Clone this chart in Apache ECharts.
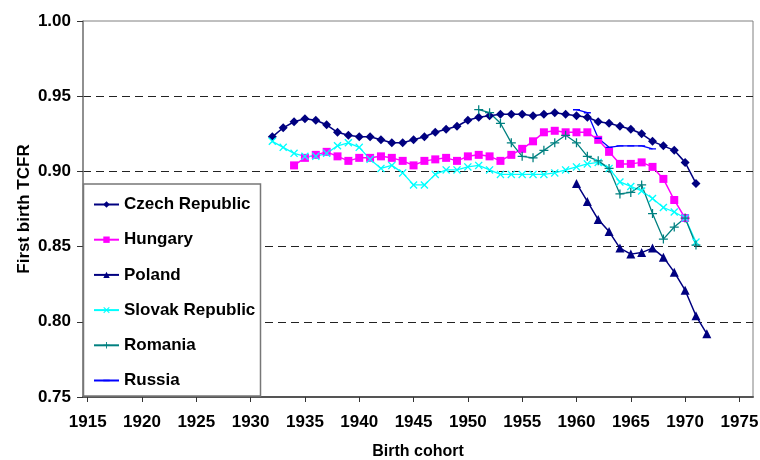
<!DOCTYPE html>
<html>
<head>
<meta charset="utf-8">
<script src="https://cdn.jsdelivr.net/npm/echarts@6/dist/echarts.min.js"></script>
<style>
html,body{margin:0;padding:0;background:#fff;}
#chart{width:760px;height:460px;}
</style>
</head>
<body>
<div id="chart"></div>
<script>
// Birth cohorts (x values)
const cohorts = [1932,1933,1934,1935,1936,1937,1938,1939,1940,1941,1942,1943,1944,1945,1946,1947,1948,1949,1950,1951,1952,1953,1954,1955,1956,1957,1958,1959,1960,1961,1962,1963,1964,1965,1966,1967,1968,1969,1970,1971,1972];
const xTicks = [1915,1920,1925,1930,1935,1940,1945,1950,1955,1960,1965,1970,1975];
const seriesNames = ['Czech Republic','Hungary','Poland','Slovak Republic','Romania','Russia'];

// First birth TCFR by cohort (null = no data)
const czech = [0.923,0.929,0.933,0.935,0.934,0.931,0.926,0.924,0.923,0.923,0.921,0.919,0.919,0.921,0.923,0.926,0.928,0.930,0.934,0.936,0.937,0.938,0.938,0.938,0.937,0.938,0.939,0.938,0.937,0.936,0.933,0.932,0.930,0.928,0.925,0.920,0.917,0.914,0.906,0.892,null];
const hungary = [null,null,0.904,0.909,0.911,0.913,0.910,0.907,0.909,0.909,0.910,0.909,0.907,0.904,0.907,0.908,0.909,0.907,0.910,0.911,0.910,0.907,0.911,0.915,0.920,0.926,0.927,0.926,0.926,0.926,0.921,0.913,0.905,0.905,0.906,0.903,0.895,0.881,0.869,null,null];
const poland = [null,null,null,null,null,null,null,null,null,null,null,null,null,null,null,null,null,null,null,null,null,null,null,null,null,null,null,null,0.892,0.880,0.868,0.860,0.849,0.845,0.846,0.849,0.843,0.833,0.821,0.804,0.792];
const slovak = [0.920,0.916,0.912,0.910,0.910,0.912,0.917,0.919,0.916,0.908,0.902,0.904,0.899,0.891,0.891,0.898,0.901,0.901,0.903,0.904,0.901,0.898,0.898,0.898,0.898,0.898,0.899,0.901,0.903,0.905,0.906,0.902,0.893,0.890,0.887,0.882,0.876,0.873,0.869,0.853,null];
const romania = [null,null,null,null,null,null,null,null,null,null,null,null,null,null,null,null,null,null,null,0.941,0.939,0.932,0.919,0.910,0.909,0.914,0.919,0.924,0.919,0.910,0.907,0.902,0.885,0.886,0.891,0.872,0.855,0.863,0.869,0.851,null];
const russia = [null,null,null,null,null,null,null,null,null,null,null,null,null,null,null,null,null,null,null,null,null,null,null,null,null,null,null,null,0.941,0.939,0.922,0.916,0.917,0.917,0.917,0.915,null,null,null,null,null];

function pairs(vals){
  return cohorts.map((c,i)=> vals[i]==null ? null : [c, vals[i]]).filter(Boolean);
}

const FONT = "'Liberation Sans', Arial, sans-serif";
const X_PATH = 'path://M0,1.2L1.2,0L5,3.8L8.8,0L10,1.2L6.2,5L10,8.8L8.8,10L5,6.2L1.2,10L0,8.8L3.8,5Z';
const PLUS_PATH = 'path://M4.3,0H5.7V4.3H10V5.7H5.7V10H4.3V5.7H0V4.3H4.3Z';
const DASH_PATH = 'path://M0,0L0.01,0L0,0.01ZM0,4H10V6H0ZM10,10L9.99,10L10,9.99Z';

function mk(name, vals, color, symbol, size, width){
  return {
    name: name,
    type: 'line',
    data: pairs(vals),
    symbol: symbol,
    symbolSize: size,
    showAllSymbol: true,
    color: color,
    lineStyle: {color: color, width: width},
    itemStyle: {color: color},
    emphasis: {disabled: true},
    animation: false,
    z: 3
  };
}

const chart = echarts.init(document.getElementById('chart'), null, {renderer: 'canvas'});
chart.setOption({
  backgroundColor: '#ffffff',
  animation: false,
  textStyle: {fontFamily: FONT},
  grid: {left: 83, right: 7, top: 21, bottom: 63, show: true, borderColor: '#808080', borderWidth: 1, backgroundColor: 'transparent', outerBoundsMode: 'none', containLabel: false},
  xAxis: {
    type: 'value',
    min: 1914.57,
    max: 1976.25,
    name: 'Birth cohort',
    nameLocation: 'middle',
    nameGap: 47,
    nameMoveOverlap: false,
    nameTextStyle: {fontFamily: FONT, fontWeight: 'bold', fontSize: 16, color: '#000'},
    axisLine: {show: true, onZero: false, lineStyle: {color: '#555', width: 2}},
    axisTick: {show: true, length: 5, customValues: xTicks, lineStyle: {color: '#333', width: 1}},
    axisLabel: {customValues: xTicks, margin: 17, fontFamily: FONT, fontWeight: 'bold', fontSize: 17, color: '#000', formatter: v => String(Math.round(v))},
    splitLine: {show: false}
  },
  yAxis: {
    type: 'value',
    min: 0.75,
    max: 1.0,
    interval: 0.05,
    name: 'First birth TCFR',
    nameLocation: 'middle',
    nameRotate: 90,
    nameGap: 50,
    nameMoveOverlap: false,
    nameTextStyle: {fontFamily: FONT, fontWeight: 'bold', fontSize: 17, color: '#000'},
    axisLine: {show: true, onZero: false, lineStyle: {color: '#808080', width: 1.5}},
    axisTick: {show: true, length: 6, lineStyle: {color: '#333', width: 1}},
    axisLabel: {margin: 12, fontFamily: FONT, fontWeight: 'bold', fontSize: 17, color: '#000', formatter: v => v.toFixed(2)},
    splitLine: {show: true, showMinLine: false, showMaxLine: false, lineStyle: {color: '#222', width: 1, type: [8,5]}}
  },
  graphic: [{
    type: 'rect',
    z: 1,
    shape: {x: 83.5, y: 184, width: 177, height: 212},
    style: {fill: '#ffffff', stroke: '#777', lineWidth: 1.5}
  }],
  legend: {
    data: seriesNames,
    orient: 'vertical',
    left: 93,
    top: 196,
    padding: 0,
    itemWidth: 25,
    itemHeight: 8,
    itemGap: 18.2,
    textStyle: {fontFamily: FONT, fontWeight: 'bold', fontSize: 17, color: '#000', lineHeight: 16},
    selectedMode: false
  },
  series: [
    mk(seriesNames[0], czech, '#000080', 'diamond', 9, 1.5),
    mk(seriesNames[1], hungary, '#FF00FF', 'rect', 8, 1.5),
    mk(seriesNames[2], poland, '#000080', 'triangle', 9, 1.5),
    mk(seriesNames[3], slovak, '#00FFFF', X_PATH, 8, 1.3),
    mk(seriesNames[4], romania, '#008080', PLUS_PATH, 9, 1.3),
    mk(seriesNames[5], russia, '#0000FF', DASH_PATH, 7, 1.3)
  ]
});
</script>
</body>
</html>
